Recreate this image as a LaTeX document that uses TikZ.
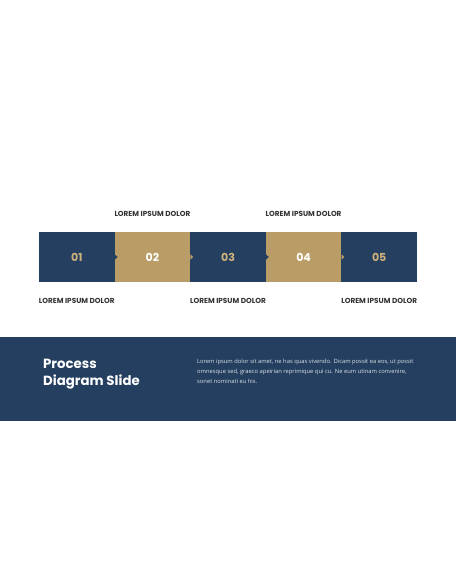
\documentclass[tikz,border=0pt]{standalone}
\usepackage{fontspec}
\setmainfont{Poppins}
\newfontfamily\bodyfont{Open Sans}
\usetikzlibrary{positioning}
\definecolor{navy}{HTML}{243F5F}
\definecolor{sand}{HTML}{B99C66}
\definecolor{sandtext}{HTML}{CDB27C}
\definecolor{paper}{HTML}{DCE1E8}
\tikzset{
  stepbox/.style={minimum width=75.6, minimum height=50.6, inner sep=0, font=\fontsize{11}{13}\selectfont\bfseries},
  caption/.style={inner sep=0, font=\fontsize{7.3}{8}\selectfont\bfseries, text=black!80}
}
\begin{document}
\begin{tikzpicture}[x=1pt,y=-1pt,line join=round]
	\useasboundingbox (0,0) rectangle (456,586);
	% band at the bottom
	\fill[navy] (0,336.5) rectangle (456,420.7);
	% the five steps
	\foreach \i/\c/\t in {1/navy/sandtext,2/sand/white,3/navy/sandtext,4/sand/white,5/navy/sandtext}
		\node[stepbox, fill=\c, text=\t] (s\i) at ({39+75.6*(\i-1)+37.8},257) {0\i};
	\foreach \i/\c in {1/navy,2/sand,3/navy,4/sand}
		\fill[\c] (s\i.east) ++(0,-2.6) -- ++(2.8,2.6) -- ++(-2.8,2.6) -- cycle;
	% labels
	\node[caption, above=14.8pt of s2] (t2) {LOREM IPSUM DOLOR};
	\node[caption, above=14.8pt of s4] (t4) {LOREM IPSUM DOLOR};
	\node[caption, below=15.5pt of s1] (b1) {LOREM IPSUM DOLOR};
	\node[caption, below=15.5pt of s3] (b3) {LOREM IPSUM DOLOR};
	\node[caption, below=15.5pt of s5] (b5) {LOREM IPSUM DOLOR};
	% title and text
	\node[anchor=north west, inner sep=0, align=left, text=white, font=\fontsize{13.3}{17}\selectfont\bfseries] (title) at (43,359) {Process\\Diagram Slide};
	\node[anchor=north west, inner sep=0, align=left, text=paper, font=\bodyfont\fontsize{5.8}{10}\selectfont] (body) at (197,358.8) {Lorem ipsum dolor sit amet, ne has quas vivendo. Dicam possit ea eos, ut possit\\omnesque sed, graeco apeirian reprimique qui cu. Ne eum utinam convenire,\\sonet nominati eu his.};
\end{tikzpicture}
\end{document}
